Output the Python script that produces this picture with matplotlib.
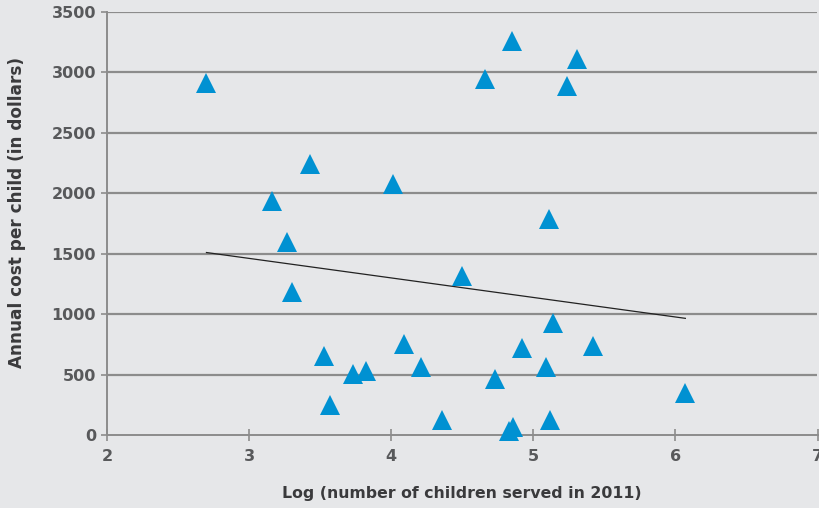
import numpy as np
import matplotlib
matplotlib.use("Agg")
import matplotlib.pyplot as plt

# Log of the number of children served in 2011, and annual cost per child
log_children = [2.70, 3.16, 3.27, 3.43, 3.30, 4.01, 4.66, 4.85, 5.31, 5.24,
                5.11, 4.50, 5.14, 3.53, 3.57, 3.73, 3.82, 4.09, 4.21, 4.36,
                4.73, 4.92, 4.83, 4.86, 5.09, 5.12, 5.42, 6.07]
cost_per_child = [2910, 1940, 1597, 2242, 1181, 2080, 2943, 3262, 3108, 2890,
                  1785, 1318, 929, 654, 248, 502, 530, 753, 565, 121,
                  463, 722, 30, 70, 565, 121, 736, 345]

x_ticks = [2, 3, 4, 5, 6, 7]
y_ticks = [0, 500, 1000, 1500, 2000, 2500, 3000, 3500]

bg = "#E6E7E9"
grid_col = "#8C8C8C"
tick_col = "#58595B"
label_col = "#3A3A3C"
marker_col = "#0091D2"

fig = plt.figure(figsize=(8.2, 5.08), dpi=100, facecolor=bg)
ax = fig.add_axes([107 / 820, 73 / 508, 710.5 / 820, 423 / 508], facecolor=bg)

ax.set_xlim(2, 7)
ax.set_ylim(0, 3500)
ax.set_xticks(x_ticks)
ax.set_yticks(y_ticks)

# horizontal gridlines
for yv in y_ticks[1:]:
    ax.axhline(yv, color=grid_col, lw=1.6, zorder=1)

for side in ("top", "right"):
    ax.spines[side].set_visible(False)
for side in ("left", "bottom"):
    ax.spines[side].set_color(grid_col)
    ax.spines[side].set_linewidth(1.4)

ax.tick_params(axis="x", direction="inout", length=8, width=1.2, color=grid_col,
               labelsize=11.5, labelcolor=tick_col, pad=6)
ax.tick_params(axis="y", direction="out", length=4, width=1.2, color=grid_col,
               labelsize=11.5, labelcolor=tick_col, pad=4)
for lbl in ax.get_xticklabels() + ax.get_yticklabels():
    lbl.set_fontweight("bold")

# linear trend line over the data range
xs = np.array(log_children)
ys = np.array(cost_per_child)
slope, intercept = np.polyfit(xs, ys, 1)
xr = np.array([xs.min(), xs.max()])
ax.plot(xr, slope * xr + intercept, color="#222222", lw=0.9, zorder=2)

ax.plot(log_children, cost_per_child, linestyle="none", marker="^",
        markersize=14, color=marker_col, markeredgewidth=0, zorder=3,
        clip_on=False)

ax.set_xlabel("Log (number of children served in 2011)", fontsize=11.3,
              fontweight="bold", color=label_col, labelpad=16)
ax.set_ylabel("Annual cost per child (in dollars)", fontsize=12.2,
              fontweight="bold", color=label_col, labelpad=0)
ax.yaxis.set_label_coords(-0.114, 0.527)

fig.savefig("out.png", dpi=100, facecolor=bg)
